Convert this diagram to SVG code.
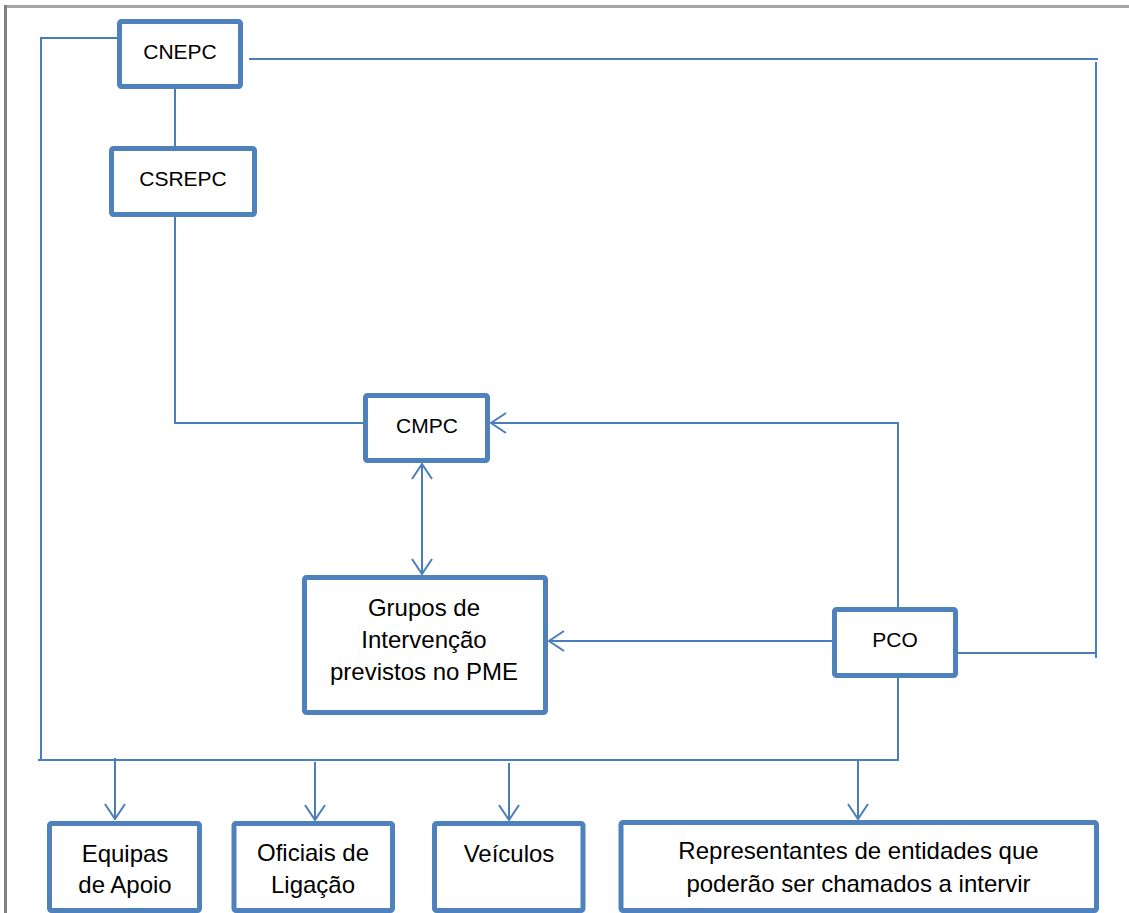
<svg xmlns="http://www.w3.org/2000/svg" width="1129" height="913" viewBox="0 0 1129 913">
<style>
  .box{fill:#ffffff;stroke:#4f81bd;stroke-width:5;stroke-linejoin:round}
  .ln{fill:none;stroke:#4a7ebb;stroke-width:2}
  .t{font-family:"Liberation Sans",Arial,sans-serif;font-size:24px;fill:#000;text-anchor:middle}
  .c{font-size:21px}
</style>
<defs>
  <marker id="ah" viewBox="0 0 20 24" refX="19" refY="12" markerWidth="20" markerHeight="24" markerUnits="userSpaceOnUse" orient="auto-start-reverse">
    <path d="M4,2 L19,12 L4,22" fill="none" stroke="#4a7ebb" stroke-width="2"/>
  </marker>
</defs>
<rect x="0" y="0" width="1129" height="913" fill="#ffffff"/>
<line x1="4" y1="6.5" x2="1129" y2="6.5" stroke="#a6a6a6" stroke-width="3"/>
<line x1="5.5" y1="5" x2="5.5" y2="913" stroke="#808080" stroke-width="3"/>
<g id="connectors">
  <polyline class="ln" points="117,38 41,38 41,759"/>
  <polyline class="ln" points="249,59 1098,59"/>
  <polyline class="ln" points="1096,62 1096,658"/>
  <polyline class="ln" points="958,653 1096,653"/>
  <line class="ln" x1="175" y1="89" x2="175" y2="146"/>
  <polyline class="ln" points="175,217 175,423 363,423"/>
  <polyline class="ln" points="898,607 898,423 491,423" marker-end="url(#ah)"/>
  <line class="ln" x1="422" y1="464" x2="422" y2="574" marker-start="url(#ah)" marker-end="url(#ah)"/>
  <line class="ln" x1="832" y1="641" x2="549" y2="641" marker-end="url(#ah)"/>
  <polyline class="ln" points="898,678 898,760 38,760"/>
  <line class="ln" x1="115" y1="758" x2="115" y2="819" marker-end="url(#ah)"/>
  <line class="ln" x1="315" y1="762" x2="315" y2="820" marker-end="url(#ah)"/>
  <line class="ln" x1="509" y1="763" x2="509" y2="820" marker-end="url(#ah)"/>
  <line class="ln" x1="858" y1="761" x2="858" y2="819" marker-end="url(#ah)"/>
</g>
<g id="CNEPC">
  <rect class="box" x="119.5" y="21.5" width="121" height="65" rx="2"/>
  <text class="t c" x="180" y="59">CNEPC</text>
</g>
<g id="CSREPC">
  <rect class="box" x="111.5" y="148.5" width="143" height="66" rx="2"/>
  <text class="t c" x="183" y="186">CSREPC</text>
</g>
<g id="CMPC">
  <rect class="box" x="365.5" y="395.5" width="122" height="65" rx="2"/>
  <text class="t c" x="427" y="433">CMPC</text>
</g>
<g id="Grupos">
  <rect class="box" x="304.5" y="577.5" width="241" height="135" rx="2"/>
  <text class="t" x="424" y="616">Grupos de</text>
  <text class="t" x="424" y="648">Intervenção</text>
  <text class="t" x="424" y="680">previstos no PME</text>
</g>
<g id="PCO">
  <rect class="box" x="834.5" y="609.5" width="121" height="66" rx="2"/>
  <text class="t c" x="895" y="647">PCO</text>
</g>
<g id="Equipas">
  <rect class="box" x="49.5" y="823.5" width="150" height="87" rx="2"/>
  <text class="t" x="125" y="862">Equipas</text>
  <text class="t" x="125" y="893">de Apoio</text>
</g>
<g id="Oficiais">
  <rect class="box" x="234" y="823.5" width="158.5" height="87" rx="2"/>
  <text class="t" x="313" y="861">Oficiais de</text>
  <text class="t" x="313" y="893">Ligação</text>
</g>
<g id="Veiculos">
  <rect class="box" x="434.5" y="823.5" width="148.5" height="87" rx="2"/>
  <text class="t" x="509" y="862">Veículos</text>
</g>
<g id="Representantes">
  <rect class="box" x="621" y="822.5" width="475.5" height="88" rx="2"/>
  <text class="t" x="858.5" y="859">Representantes de entidades que</text>
  <text class="t" x="858.5" y="892">poderão ser chamados a intervir</text>
</g>
</svg>
